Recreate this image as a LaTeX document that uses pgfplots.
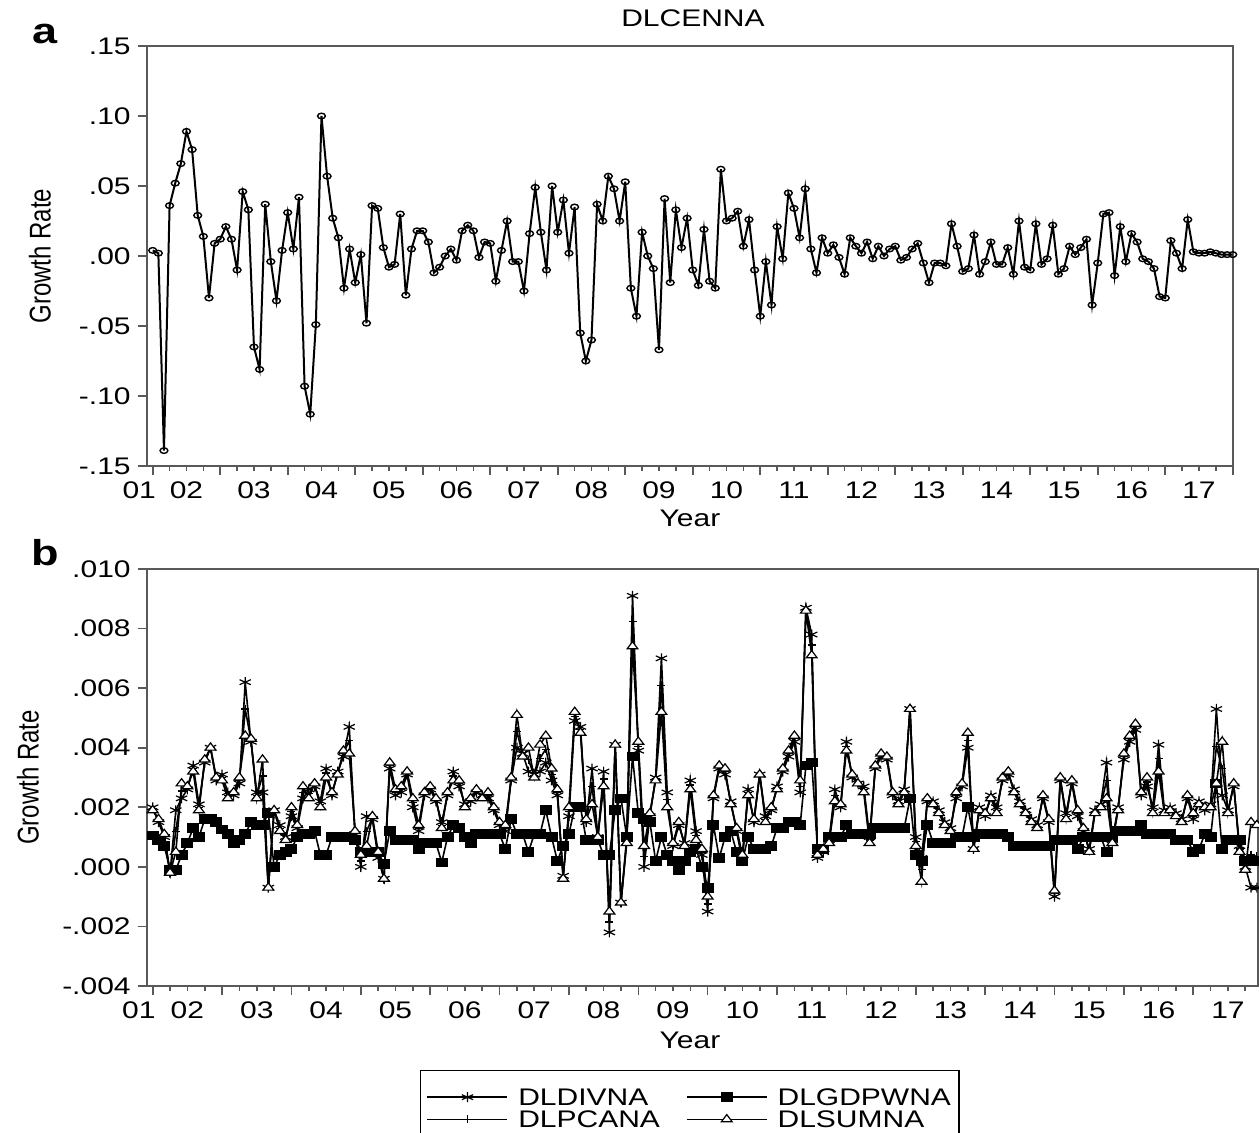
\documentclass[border=0pt]{standalone}
\usepackage{fontspec}
\setmainfont{Liberation Sans}
\usepackage{graphicx}
\usepackage{pgfplots}
\usepackage{pgfplotstable}
\pgfplotsset{compat=1.18}
\definecolor{axisgray}{gray}{0.35}
\newcommand{\sx}[1]{\scalebox{1.25}[1]{#1}}

\pgfplotstableread{
i v
0 0.004
1 0.002
2 -0.139
3 0.036
4 0.052
5 0.066
6 0.089
7 0.076
8 0.029
9 0.014
10 -0.030
11 0.009
12 0.012
13 0.021
14 0.012
15 -0.010
16 0.046
17 0.033
18 -0.065
19 -0.081
20 0.037
21 -0.004
22 -0.032
23 0.004
24 0.031
25 0.005
26 0.042
27 -0.093
28 -0.113
29 -0.049
30 0.100
31 0.057
32 0.027
33 0.013
34 -0.023
35 0.005
36 -0.019
37 0.001
38 -0.048
39 0.036
40 0.034
41 0.006
42 -0.008
43 -0.006
44 0.030
45 -0.028
46 0.005
47 0.018
48 0.018
49 0.010
50 -0.012
51 -0.008
52 0.000
53 0.005
54 -0.003
55 0.018
56 0.022
57 0.018
58 -0.001
59 0.010
60 0.009
61 -0.018
62 0.004
63 0.025
64 -0.004
65 -0.004
66 -0.025
67 0.016
68 0.049
69 0.017
70 -0.010
71 0.050
72 0.017
73 0.040
74 0.002
75 0.035
76 -0.055
77 -0.075
78 -0.060
79 0.037
80 0.025
81 0.057
82 0.048
83 0.025
84 0.053
85 -0.023
86 -0.043
87 0.017
88 0.000
89 -0.009
90 -0.067
91 0.041
92 -0.019
93 0.033
94 0.006
95 0.027
96 -0.010
97 -0.021
98 0.019
99 -0.018
100 -0.023
101 0.062
102 0.025
103 0.027
104 0.032
105 0.007
106 0.026
107 -0.010
108 -0.043
109 -0.004
110 -0.035
111 0.021
112 -0.002
113 0.045
114 0.034
115 0.013
116 0.048
117 0.005
118 -0.012
119 0.013
120 0.002
121 0.008
122 -0.001
123 -0.013
124 0.013
125 0.007
126 0.002
127 0.010
128 -0.002
129 0.007
130 0.000
131 0.005
132 0.007
133 -0.003
134 -0.001
135 0.005
136 0.009
137 -0.005
138 -0.019
139 -0.005
140 -0.005
141 -0.007
142 0.023
143 0.007
144 -0.011
145 -0.009
146 0.015
147 -0.013
148 -0.004
149 0.010
150 -0.006
151 -0.006
152 0.006
153 -0.013
154 0.025
155 -0.008
156 -0.010
157 0.023
158 -0.006
159 -0.002
160 0.022
161 -0.013
162 -0.009
163 0.007
164 0.001
165 0.006
166 0.012
167 -0.035
168 -0.005
169 0.030
170 0.031
171 -0.014
172 0.021
173 -0.004
174 0.016
175 0.010
176 -0.002
177 -0.004
178 -0.009
179 -0.029
180 -0.030
181 0.011
182 0.002
183 -0.009
184 0.026
185 0.003
186 0.002
187 0.002
188 0.003
189 0.002
190 0.001
191 0.001
192 0.001
}\dataA

\pgfplotstableread{
i div gdp pca sum
0 0.0020 0.00105 0.00195 0.0019
1 0.0015 0.0009 0.00155 0.0016
2 0.0010 0.0007 0.00105 0.0011
3 -0.0002 -0.0001 -0.0002 -0.0002
4 0.0019 -0.0001 0.0012 0.0005
5 0.0023 0.0004 0.00255 0.0028
6 0.0026 0.0008 0.00265 0.0027
7 0.0034 0.0013 0.0033 0.0032
8 0.0021 0.0010 0.0020 0.0019
9 0.0035 0.0016 0.00355 0.0036
10 0.0040 0.0016 0.0040 0.0040
11 0.0029 0.0015 0.00295 0.0030
12 0.0031 0.00125 0.0030 0.0029
13 0.0025 0.0011 0.0024 0.0023
14 0.0024 0.0008 0.00245 0.0025
15 0.0028 0.0009 0.0029 0.0030
16 0.0062 0.0011 0.0053 0.0044
17 0.0042 0.0015 0.00425 0.0043
18 0.0025 0.0014 0.0024 0.0023
19 0.0025 0.0014 0.00305 0.0036
20 -0.0007 0.0018 -0.0007 -0.0007
21 0.0019 0.0000 0.0019 0.0019
22 0.0014 0.0004 0.0013 0.0012
23 0.0010 0.0005 0.00095 0.0009
24 0.0017 0.0006 0.00185 0.0020
25 0.0013 0.0010 0.00135 0.0014
26 0.0023 0.0011 0.0025 0.0027
27 0.0026 0.0011 0.00245 0.0023
28 0.0027 0.0012 0.00275 0.0028
29 0.0022 0.0004 0.0021 0.0020
30 0.0033 0.0004 0.00315 0.0030
31 0.0024 0.0010 0.00245 0.0025
32 0.0032 0.0010 0.00315 0.0031
33 0.0037 0.0010 0.0038 0.0039
34 0.0047 0.0010 0.00425 0.0038
35 0.0011 0.0009 0.00115 0.0012
36 0.0000 0.0005 0.0002 0.0004
37 0.0017 0.0005 0.0012 0.0007
38 0.0016 0.0005 0.00165 0.0017
39 0.0003 0.0005 0.0004 0.0005
40 -0.0004 0.0001 -0.0004 -0.0004
41 0.0033 0.0012 0.0034 0.0035
42 0.0024 0.0009 0.0025 0.0026
43 0.0025 0.0009 0.0026 0.0027
44 0.0031 0.0009 0.00315 0.0032
45 0.0020 0.0009 0.00215 0.0023
46 0.0012 0.0006 0.0013 0.0014
47 0.0024 0.0008 0.00245 0.0025
48 0.0026 0.0008 0.00265 0.0027
49 0.0022 0.0008 0.00225 0.0023
50 0.0015 0.00015 0.0014 0.0013
51 0.0024 0.0010 0.00245 0.0025
52 0.0032 0.0014 0.00305 0.0029
53 0.0027 0.0013 0.0028 0.0029
54 0.0021 0.0010 0.00205 0.0020
55 0.0022 0.0008 0.00225 0.0023
56 0.0025 0.0011 0.00255 0.0026
57 0.0024 0.0011 0.00235 0.0023
58 0.0023 0.0011 0.0024 0.0025
59 0.0019 0.0011 0.00195 0.0020
60 0.0014 0.0011 0.00145 0.0015
61 0.0012 0.0006 0.0013 0.0014
62 0.0029 0.0016 0.00295 0.0030
63 0.0040 0.0011 0.00455 0.0051
64 0.0038 0.0011 0.00375 0.0037
65 0.0032 0.0005 0.0036 0.0040
66 0.0031 0.0011 0.00305 0.0030
67 0.0032 0.0011 0.00365 0.0041
68 0.0035 0.0019 0.00395 0.0044
69 0.0029 0.0010 0.0031 0.0033
70 0.0024 0.0002 0.0025 0.0026
71 -0.0003 0.0007 -0.00035 -0.0004
72 0.0017 0.0011 0.00185 0.0020
73 0.0049 0.0020 0.00505 0.0052
74 0.0047 0.0020 0.0046 0.0045
75 0.0015 0.0009 0.00155 0.0016
76 0.0033 0.0009 0.0027 0.0021
77 0.0010 0.0009 0.0010 0.0010
78 0.0032 0.0004 0.00295 0.0027
79 -0.0022 0.0004 -0.00185 -0.0015
80 0.0041 0.0019 0.0041 0.0041
81 -0.0012 0.0023 -0.0012 -0.0012
82 0.0010 0.0010 0.0009 0.0008
83 0.0091 0.0037 0.00825 0.0074
84 0.0039 0.0018 0.00405 0.0042
85 0.0000 0.0016 0.00035 0.0007
86 0.0017 0.0015 0.00175 0.0018
87 0.0030 0.0002 0.00295 0.0029
88 0.0070 0.0010 0.0061 0.0052
89 0.0025 0.0004 0.00225 0.0020
90 0.0007 0.0002 0.00075 0.0008
91 0.0014 -0.0001 0.00145 0.0015
92 0.0008 0.0002 0.00075 0.0007
93 0.0029 0.0005 0.00275 0.0026
94 0.0012 0.0006 0.00105 0.0009
95 0.0004 0.0000 0.0005 0.0006
96 -0.0015 -0.0007 -0.00125 -0.0010
97 0.0023 0.0014 0.00235 0.0024
98 0.0033 0.0003 0.00335 0.0034
99 0.0031 0.0010 0.0032 0.0033
100 0.0022 0.0012 0.00215 0.0021
101 0.0012 0.0005 0.00125 0.0013
102 0.0002 0.0002 0.0003 0.0004
103 0.0026 0.0010 0.0025 0.0024
104 0.0015 0.0006 0.00155 0.0016
105 0.0031 0.0006 0.0031 0.0031
106 0.0017 0.0006 0.0016 0.0015
107 0.0019 0.0007 0.00195 0.0020
108 0.0027 0.0013 0.00265 0.0026
109 0.0032 0.0013 0.00325 0.0033
110 0.0037 0.0015 0.0038 0.0039
111 0.0042 0.0015 0.0043 0.0044
112 0.0025 0.0014 0.0027 0.0029
113 0.0087 0.0034 0.00865 0.0086
114 0.0078 0.0035 0.00745 0.0071
115 0.0003 0.0006 0.00035 0.0004
116 0.0005 0.0006 0.00055 0.0006
117 0.0009 0.0010 0.00085 0.0008
118 0.0026 0.0010 0.0024 0.0022
119 0.0020 0.0010 0.00205 0.0021
120 0.0042 0.0014 0.00405 0.0039
121 0.0030 0.0011 0.00305 0.0031
122 0.0028 0.0011 0.0028 0.0028
123 0.0027 0.0011 0.0026 0.0025
124 0.0010 0.0011 0.0009 0.0008
125 0.0033 0.0013 0.00335 0.0034
126 0.0037 0.0013 0.00375 0.0038
127 0.0036 0.0013 0.00365 0.0037
128 0.0024 0.0013 0.00245 0.0025
129 0.0022 0.0013 0.00215 0.0021
130 0.0026 0.0013 0.00255 0.0025
131 0.0053 0.0023 0.0053 0.0053
132 0.0010 0.0004 0.00085 0.0007
133 0.0003 0.0002 -0.0001 -0.0005
134 0.0022 0.0014 0.00225 0.0023
135 0.0022 0.0008 0.00215 0.0021
136 0.0019 0.0008 0.00185 0.0018
137 0.0015 0.0008 0.00145 0.0014
138 0.0013 0.0008 0.00125 0.0012
139 0.0023 0.0010 0.0024 0.0025
140 0.0027 0.0010 0.00275 0.0028
141 0.0040 0.0020 0.00425 0.0045
142 0.0006 0.0010 0.0006 0.0006
143 0.0020 0.0011 0.00195 0.0019
144 0.0017 0.0011 0.00175 0.0018
145 0.0024 0.0011 0.00235 0.0023
146 0.0020 0.0011 0.0019 0.0018
147 0.0029 0.0011 0.00295 0.0030
148 0.0031 0.0010 0.00315 0.0032
149 0.0026 0.0007 0.00255 0.0025
150 0.0022 0.0007 0.00215 0.0021
151 0.0019 0.0007 0.00185 0.0018
152 0.0016 0.0007 0.00155 0.0015
153 0.0014 0.0007 0.00135 0.0013
154 0.0023 0.0007 0.00235 0.0024
155 0.0015 0.0007 0.00155 0.0016
156 -0.0010 0.0009 -0.0009 -0.0008
157 0.0029 0.0009 0.00295 0.0030
158 0.0018 0.0009 0.0017 0.0016
159 0.0028 0.0009 0.00285 0.0029
160 0.0017 0.0006 0.0018 0.0019
161 0.0012 0.0010 0.00125 0.0013
162 0.0006 0.0010 0.00055 0.0005
163 0.0019 0.0010 0.00185 0.0018
164 0.0021 0.0010 0.00205 0.0020
165 0.0035 0.0005 0.0029 0.0023
166 0.0009 0.0010 0.00085 0.0008
167 0.0020 0.0012 0.00195 0.0019
168 0.0036 0.0012 0.0037 0.0038
169 0.0042 0.0012 0.0043 0.0044
170 0.0046 0.0012 0.0047 0.0048
171 0.0024 0.0014 0.00245 0.0025
172 0.0027 0.0011 0.00285 0.0030
173 0.0020 0.0011 0.0019 0.0018
174 0.0041 0.0011 0.00365 0.0032
175 0.0019 0.0011 0.00185 0.0018
176 0.0020 0.0011 0.00195 0.0019
177 0.0018 0.0009 0.00175 0.0017
178 0.0016 0.0009 0.00155 0.0015
179 0.0023 0.0009 0.00235 0.0024
180 0.0016 0.0005 0.0017 0.0018
181 0.0022 0.0006 0.00215 0.0021
182 0.0019 0.0011 0.00195 0.0020
183 0.0021 0.0010 0.00205 0.0020
184 0.0053 0.0028 0.00405 0.0028
185 0.0024 0.0006 0.0033 0.0042
186 0.0019 0.0009 0.00185 0.0018
187 0.0027 0.0009 0.00275 0.0028
188 0.0007 0.0009 0.0006 0.0005
189 0.0000 0.0002 -0.00005 -0.0001
190 -0.0007 0.0002 0.0004 0.0015
191 -0.0007 0.0002 0.00035 0.0014
}\dataB

\pgfplotsset{
  eviews/.style={
    scale only axis,
    axis line style={draw=axisgray, line width=0.9pt},
    every tick/.style={draw=axisgray, line width=0.8pt},
    tick align=outside,
    tick pos=left,
    major tick length=4.5pt,
    minor tick length=2.3pt,
    minor x tick num=3,
    xtick={0,12,...,192},
    xticklabels={\sx{02},\sx{03},\sx{04},\sx{05},\sx{06},\sx{07},\sx{08},\sx{09},\sx{10},\sx{11},\sx{12},\sx{13},\sx{14},\sx{15},\sx{16},\sx{17},{}},
    scaled y ticks=false,
    clip=false,
  }
}

\begin{document}
\begin{tikzpicture}[font=\fontsize{12}{14}\selectfont]
\useasboundingbox (0,0) rectangle (629.5pt,-566.5pt);

% panel a
\begin{axis}[eviews,
  at={(73.35pt,-233pt)}, anchor=south west,
  width=543.3pt, height=210pt,
  xmin=-1.07, xmax=192.1, ymin=-0.15, ymax=0.15,
  xticklabel style={xshift=16.875pt},
  ytick={-0.15,-0.10,-0.05,0,0.05,0.10,0.15},
  yticklabels={\sx{-.15},\sx{-.10},\sx{-.05},\sx{.00},\sx{.05},\sx{.10},\sx{.15}},
]
\addplot[black, line width=1pt, mark=o, mark size=1.4pt,
  mark options={fill=white, xscale=1.4, line width=0.7pt}] table[x=i, y=v] {\dataA};
\node[anchor=north, inner sep=0.333em] at (axis cs:-2.4,-0.15) [yshift=-4.5pt] {\sx{01}};
\end{axis}

% panel b
\begin{axis}[eviews,
  at={(73.35pt,-493pt)}, anchor=south west,
  width=555.65pt, height=208.5pt,
  xmin=-1.04, xmax=191.2, ymin=-0.004, ymax=0.010,
  xticklabel style={xshift=17.34pt},
  ytick={-0.004,-0.002,0,0.002,0.004,0.006,0.008,0.010},
  yticklabels={\sx{-.004},\sx{-.002},\sx{.000},\sx{.002},\sx{.004},\sx{.006},\sx{.008},\sx{.010}},
  legend columns=2,
  legend cell align=left,
  legend style={at={(axis description cs:0.246,-0.2014)}, anchor=north west,
    draw=black, line width=0.6pt, inner xsep=3pt, inner ysep=8pt,
    font=\fontsize{12}{12}\selectfont, row sep=0.5pt,
    nodes={inner sep=1pt, text height=8.6pt, text depth=0pt},
    /tikz/every odd column/.append style={column sep=4pt},
    /tikz/every even column/.append style={column sep=12pt}},
  legend image code/.code={\draw[mark repeat=2, mark phase=2, #1] plot coordinates {(0pt,0pt) (20pt,0pt) (40pt,0pt)};},
]
\addplot[black, line width=0.8pt, mark=asterisk, mark size=2.5pt,
  mark options={xscale=1.3, line width=0.6pt}] table[x=i, y=div] {\dataB};
\addlegendentry{\sx{DLDIVNA}}
\addplot[black, line width=0.8pt, mark=square*, mark size=2pt,
  mark options={xscale=1.3}] table[x=i, y=gdp] {\dataB};
\addlegendentry{\sx{DLGDPWNA}}
\addplot[black, line width=0.8pt, mark=+, mark size=2pt,
  mark options={line width=0.6pt}] table[x=i, y=pca] {\dataB};
\addlegendentry{\sx{DLPCANA}}
\addplot[black, line width=0.8pt, mark=triangle*, mark size=2.4pt,
  mark options={fill=white, xscale=1.3, line width=0.6pt}] table[x=i, y=sum] {\dataB};
\addlegendentry{\sx{DLSUMNA}}
\node[anchor=north, inner sep=0.333em] at (axis cs:-2.4,-0.004) [yshift=-4.5pt] {\sx{01}};
\end{axis}

% texts
\node at (346.5pt,-9pt) {\sx{DLCENNA}};
\node at (22.5pt,-17pt) {\fontsize{18}{20}\selectfont\sx{\textbf{a}}};
\node at (22.5pt,-276.5pt) {\fontsize{18}{20}\selectfont\sx{\textbf{b}}};
\node[rotate=90] at (20pt,-128pt) {\scalebox{1}[1.25]{Growth Rate}};
\node[rotate=90] at (14pt,-388.75pt) {\scalebox{1}[1.25]{Growth Rate}};
\node at (345pt,-259pt) {\sx{Year}};
\node at (345pt,-520pt) {\sx{Year}};
\end{tikzpicture}
\end{document}
